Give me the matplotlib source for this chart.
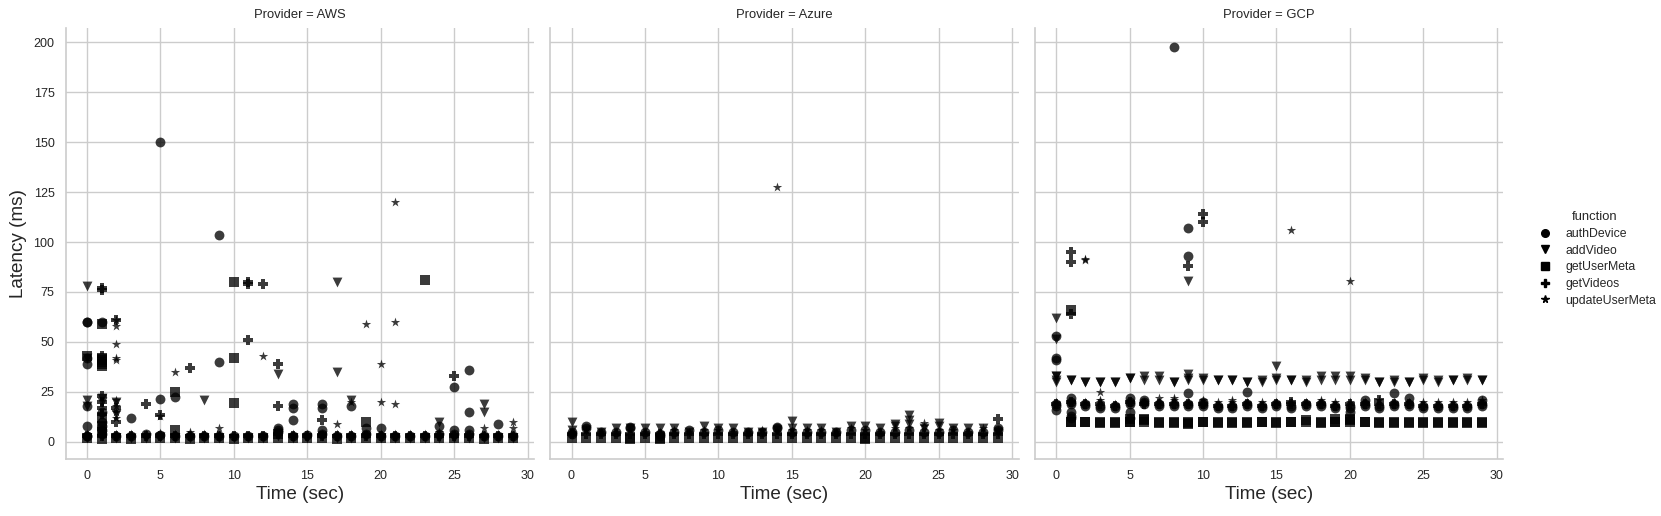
import matplotlib
matplotlib.use('Agg')
import matplotlib.pyplot as plt
from matplotlib.lines import Line2D

plt.rcParams['font.family'] = ['Liberation Sans', 'DejaVu Sans']

providers = ['AWS', 'Azure', 'GCP']
functions = ['authDevice', 'addVideo', 'getUserMeta', 'getVideos', 'updateUserMeta']
markers = ['o', 'v', 's', 'P', '*']

seconds = [0, 1, 2, 3, 4, 5, 6, 7, 8, 9, 10, 11, 12, 13, 14,
           15, 16, 17, 18, 19, 20, 21, 22, 23, 24, 25, 26, 27, 28, 29]
gcp_seconds = seconds[1:]

# steady-state latency, one sample per second (ms)
aws_auth = [3, 4, 3, 3, 4, 3.5, 3, 3, 3, 3, 3, 3, 3, 6, 3, 3.5, 4, 3, 3, 4, 3, 3, 3, 3, 4, 4, 4, 3, 3, 3]
aws_add = [2, 3, 2, 2, 2, 2.5, 2, 2, 2, 2, 2, 2, 2, 3, 2, 2, 3, 2, 2, 3, 2, 2, 2, 2, 2, 2, 2, 2, 2, 2]
aws_meta = [2, 1.5, 2, 1.5, 2, 2, 2, 1.5, 2, 2, 1.5, 2, 2, 2, 2, 2, 2, 1.5, 2, 2, 2, 2, 2, 2, 2, 2, 2, 1.5, 2, 2]
aws_videos = [3, 3, 3, 3, 3, 3, 3, 3, 3, 3, 3, 3, 3, 4, 3, 3, 3, 3, 3, 3, 3, 3, 3, 3, 3, 3, 3, 3, 3, 3]
aws_update = [4, 4, 4, 4, 4, 4.5, 4, 4, 4, 4, 3, 3, 3, 4, 4, 4, 4, 4, 4, 4, 4, 4, 4, 4, 4, 4, 4, 4, 4, 4]

azure_auth = [5, 7, 5, 5, 7, 5, 4, 5, 6, 5, 6, 5, 5, 5, 7, 5, 5, 5, 5, 6, 6, 5, 5, 6, 5, 5, 6, 5, 5, 6]
azure_add = [6, 6, 5, 7, 7, 7, 7, 7, 5, 8, 7, 7, 5, 5, 6, 7, 7, 7, 5, 8, 8, 7, 8, 9, 7, 8, 7, 7, 7, 5]
azure_meta = [2, 2, 2, 2, 2, 2, 2, 2, 2, 2, 2, 2, 2, 2, 2, 2, 2, 2, 2, 2, 2, 2, 2, 2, 2, 2, 2, 2, 2, 2]
azure_videos = [4, 4, 4, 4, 4, 4, 4, 4, 4, 4, 4, 4, 4, 4, 4, 4, 4, 4, 4, 4, 4, 4, 4, 4, 4, 4, 4, 4, 4, 4]
azure_update = [5, 6, 5, 5, 6, 5, 5, 6, 5, 6, 6, 5, 5, 6, 5, 6, 6, 6, 5, 7, 6, 5, 7, 7, 8, 6, 6, 5, 7, 6]

gcp_auth = [18, 19, 18, 17, 17, 19, 19, 18, 18, 18, 18, 17, 17, 18, 17, 18, 17, 18, 18, 17, 17, 18, 17, 18, 18, 17, 17, 17, 17, 18]
gcp_auth_b = [19, 20, 19, 18, 18, 20, 20, 19, 19, 19, 19, 18, 18, 19, 18, 19, 18, 19, 19, 18, 18, 19, 18, 19, 19, 18, 18, 18, 18, 19]
gcp_add = [31, 31, 30, 30, 30, 32, 31, 31, 30, 31, 31, 31, 31, 30, 30, 31, 31, 30, 31, 31, 31, 31, 30, 30, 30, 31, 31, 31, 31, 31]
gcp_add_b = [33, 31, 30, 30, 30, 32, 33, 33, 30, 32, 32, 31, 31, 30, 31, 32, 31, 31, 33, 33, 33, 32, 30, 31, 30, 32, 30, 31, 32, 31]
gcp_meta = [10, 10, 10, 10, 10, 10, 10, 10, 10, 10, 10, 10, 10, 10, 10, 10, 10, 10, 10, 10, 10, 10, 10, 10, 10, 10, 10, 10, 10]
gcp_meta_b = [10, 10, 9.5, 9.5, 10, 11, 9.5, 9.5, 9.5, 10, 9.5, 9.5, 9.5, 10, 9.5, 10, 11, 9.5, 10, 11, 10, 9.5, 9.5, 9.5, 9.5, 9.5, 9.5, 9.5, 9.5]
gcp_videos = [19, 20, 19, 19, 18, 20, 19, 19, 19, 19, 19, 18, 18, 19, 18, 19, 19, 19, 19, 18, 19, 19, 19, 19, 19, 18, 18, 18, 18, 19]
gcp_update = [20, 20, 20, 20, 19, 20, 20, 20, 21, 20, 21, 20, 20, 20, 20, 20, 20, 20, 20, 20, 20, 20, 21, 20, 20, 20, 20, 20, 20, 21]

# remaining samples (second, ms)
aws_auth_extra = [(0, 60), (0, 60), (0, 42), (0, 39), (0, 18), (0, 8), (0, 3), (1, 60), (1, 15), (1, 10),
                  (1, 8), (1, 6), (3, 12), (5, 150), (5, 21.5), (6, 22.5), (9, 103.5), (9, 40), (13, 7),
                  (13, 5), (14, 19), (14, 17), (14, 11), (16, 19), (16, 17), (16, 6), (18, 18), (19, 7),
                  (20, 7), (24, 8), (25, 27.5), (25, 6), (26, 36), (26, 15), (26, 6), (28, 9)]
aws_add_extra = [(0, 78), (0, 42), (0, 21), (0, 18), (1, 22), (1, 20), (2, 20), (2, 14), (8, 21), (13, 34),
                 (17, 80), (17, 35), (18, 21), (24, 10), (27, 19), (27, 15)]
aws_meta_extra = [(0, 43), (1, 59), (1, 42), (1, 41), (1, 40), (1, 39), (1, 38), (1, 12), (1, 8), (1, 5),
                  (6, 25), (6, 6), (10, 80), (10, 42), (10, 19.5), (13, 4), (19, 10), (23, 81)]
aws_videos_extra = [(1, 77), (1, 76), (1, 43), (1, 23), (1, 20), (1, 17), (1, 14), (2, 61), (2, 17), (2, 10),
                    (4, 19), (5, 13.5), (7, 37), (11, 80), (11, 79), (11, 51), (12, 79), (13, 39), (13, 18),
                    (16, 11), (25, 33)]
aws_update_extra = [(2, 61), (2, 58), (2, 49), (2, 42), (2, 41), (2, 21), (2, 18), (2, 15), (2, 12), (5, 13),
                    (6, 35), (7, 5), (9, 7), (12, 43), (17, 9), (18, 20), (19, 59), (20, 39), (20, 20),
                    (21, 120), (21, 60), (21, 19), (24, 5), (27, 7), (29, 10), (29, 7)]

azure_auth_extra = [(0, 4), (1, 8), (4, 7.5), (6, 3), (14, 7.5), (29, 7)]
azure_add_extra = [(0, 10), (15, 10.5), (22, 9), (23, 13.5), (23, 11), (25, 9.5)]
azure_meta_extra = [(4, 1.5), (6, 1.5), (20, 1.5)]
azure_videos_extra = [(29, 11.5)]
azure_update_extra = [(14, 127.5), (24, 9.5)]

gcp_auth_extra = [(0, 53), (0, 42), (0, 41), (0, 16), (1, 22), (1, 15), (1, 13), (1, 12), (5, 22), (5, 15),
                  (5, 12), (6, 21), (8, 197.5), (9, 107), (9, 93), (9, 24.5), (10, 20), (13, 25), (20, 15),
                  (21, 21), (23, 24.5), (24, 22), (29, 21)]
gcp_add_extra = [(0, 62), (0, 51.5), (0, 33), (0, 30), (9, 80.5), (9, 34), (15, 38)]
gcp_meta_extra = [(1, 66), (5, 11.5), (6, 11.5), (9, 9), (19, 11.5), (20, 11.5)]
gcp_videos_extra = [(1, 95), (1, 90), (1, 64), (9, 88), (10, 114), (10, 110), (16, 20), (22, 21)]
gcp_update_extra = [(2, 91.5), (2, 91), (3, 25), (3, 21), (7, 22), (8, 22), (12, 21), (16, 106), (18, 21),
                    (20, 80.5)]


def collect(base, extra):
    # base is a list of (times, values) runs, extra is (t, ms) pairs
    xs, ys = [], []
    for times, vals in base:
        xs += list(times)
        ys += list(vals)
    for t, v in extra:
        xs.append(t)
        ys.append(v)
    return xs, ys


panels = {
    'AWS': [
        collect([(seconds, aws_auth)], aws_auth_extra),
        collect([(seconds, aws_add)], aws_add_extra),
        collect([(seconds, aws_meta)], aws_meta_extra),
        collect([(seconds, aws_videos)], aws_videos_extra),
        collect([(seconds, aws_update)], aws_update_extra),
    ],
    'Azure': [
        collect([(seconds, azure_auth)], azure_auth_extra),
        collect([(seconds, azure_add)], azure_add_extra),
        collect([(seconds, azure_meta)], azure_meta_extra),
        collect([(seconds, azure_videos)], azure_videos_extra),
        collect([(seconds, azure_update)], azure_update_extra),
    ],
    'GCP': [
        collect([(seconds, gcp_auth), (seconds, gcp_auth_b)], gcp_auth_extra),
        collect([(seconds, gcp_add), (seconds, gcp_add_b)], gcp_add_extra),
        collect([(gcp_seconds, gcp_meta), (gcp_seconds, gcp_meta_b)], gcp_meta_extra),
        collect([(seconds, gcp_videos)], gcp_videos_extra),
        collect([(seconds, gcp_update)], gcp_update_extra),
    ],
}

grid_color = '#cccccc'
text_color = '#262626'

fig = plt.figure(figsize=(16.61, 5.16), dpi=100)

ax_w = 468.6 / 1661
ax_h = 431.1 / 516
ax_b = 56.9 / 516
lefts = [65.6 / 1661, 550.2 / 1661, 1034.8 / 1661]

for i, prov in enumerate(providers):
    ax = fig.add_axes([lefts[i], ax_b, ax_w, ax_h])
    ax.set_axisbelow(True)
    for (xs, ys), m in zip(panels[prov], markers):
        ax.scatter(xs, ys, marker=m, s=50, color='black', alpha=0.77, linewidths=0)

    ax.set_xlim(-1.45, 30.45)
    ax.set_ylim(-8.7, 207.2)
    ax.set_xticks([0, 5, 10, 15, 20, 25, 30])
    ax.set_yticks([0, 25, 50, 75, 100, 125, 150, 175, 200])
    ax.grid(True, color=grid_color, linewidth=1)
    for side in ['top', 'right']:
        ax.spines[side].set_visible(False)
    for side in ['left', 'bottom']:
        ax.spines[side].set_color(grid_color)
        ax.spines[side].set_linewidth(1.2)
    ax.tick_params(length=0, pad=8, labelsize=9, labelcolor=text_color)
    if i > 0:
        ax.tick_params(labelleft=False)
    else:
        ax.set_ylabel('Latency (ms)', fontsize=13.6, color=text_color, labelpad=5)
    ax.set_xlabel('Time (sec)', fontsize=13.6, color=text_color, labelpad=3)
    ax.set_title(f'Provider = {prov}', fontsize=9.4, color=text_color, pad=7)

handles = [Line2D([], [], linestyle='', marker=m, color='black', markersize=5.5) for m in markers]
leg = fig.legend(handles, functions, title='function', loc='center left',
                 bbox_to_anchor=(1522 / 1661, 1 - 259 / 516), frameon=False,
                 fontsize=8.8, title_fontsize=9.4, handletextpad=0.66, labelspacing=0.38)
for t in leg.get_texts():
    t.set_color(text_color)
leg.get_title().set_color(text_color)

fig.savefig('out.png', dpi=100)
